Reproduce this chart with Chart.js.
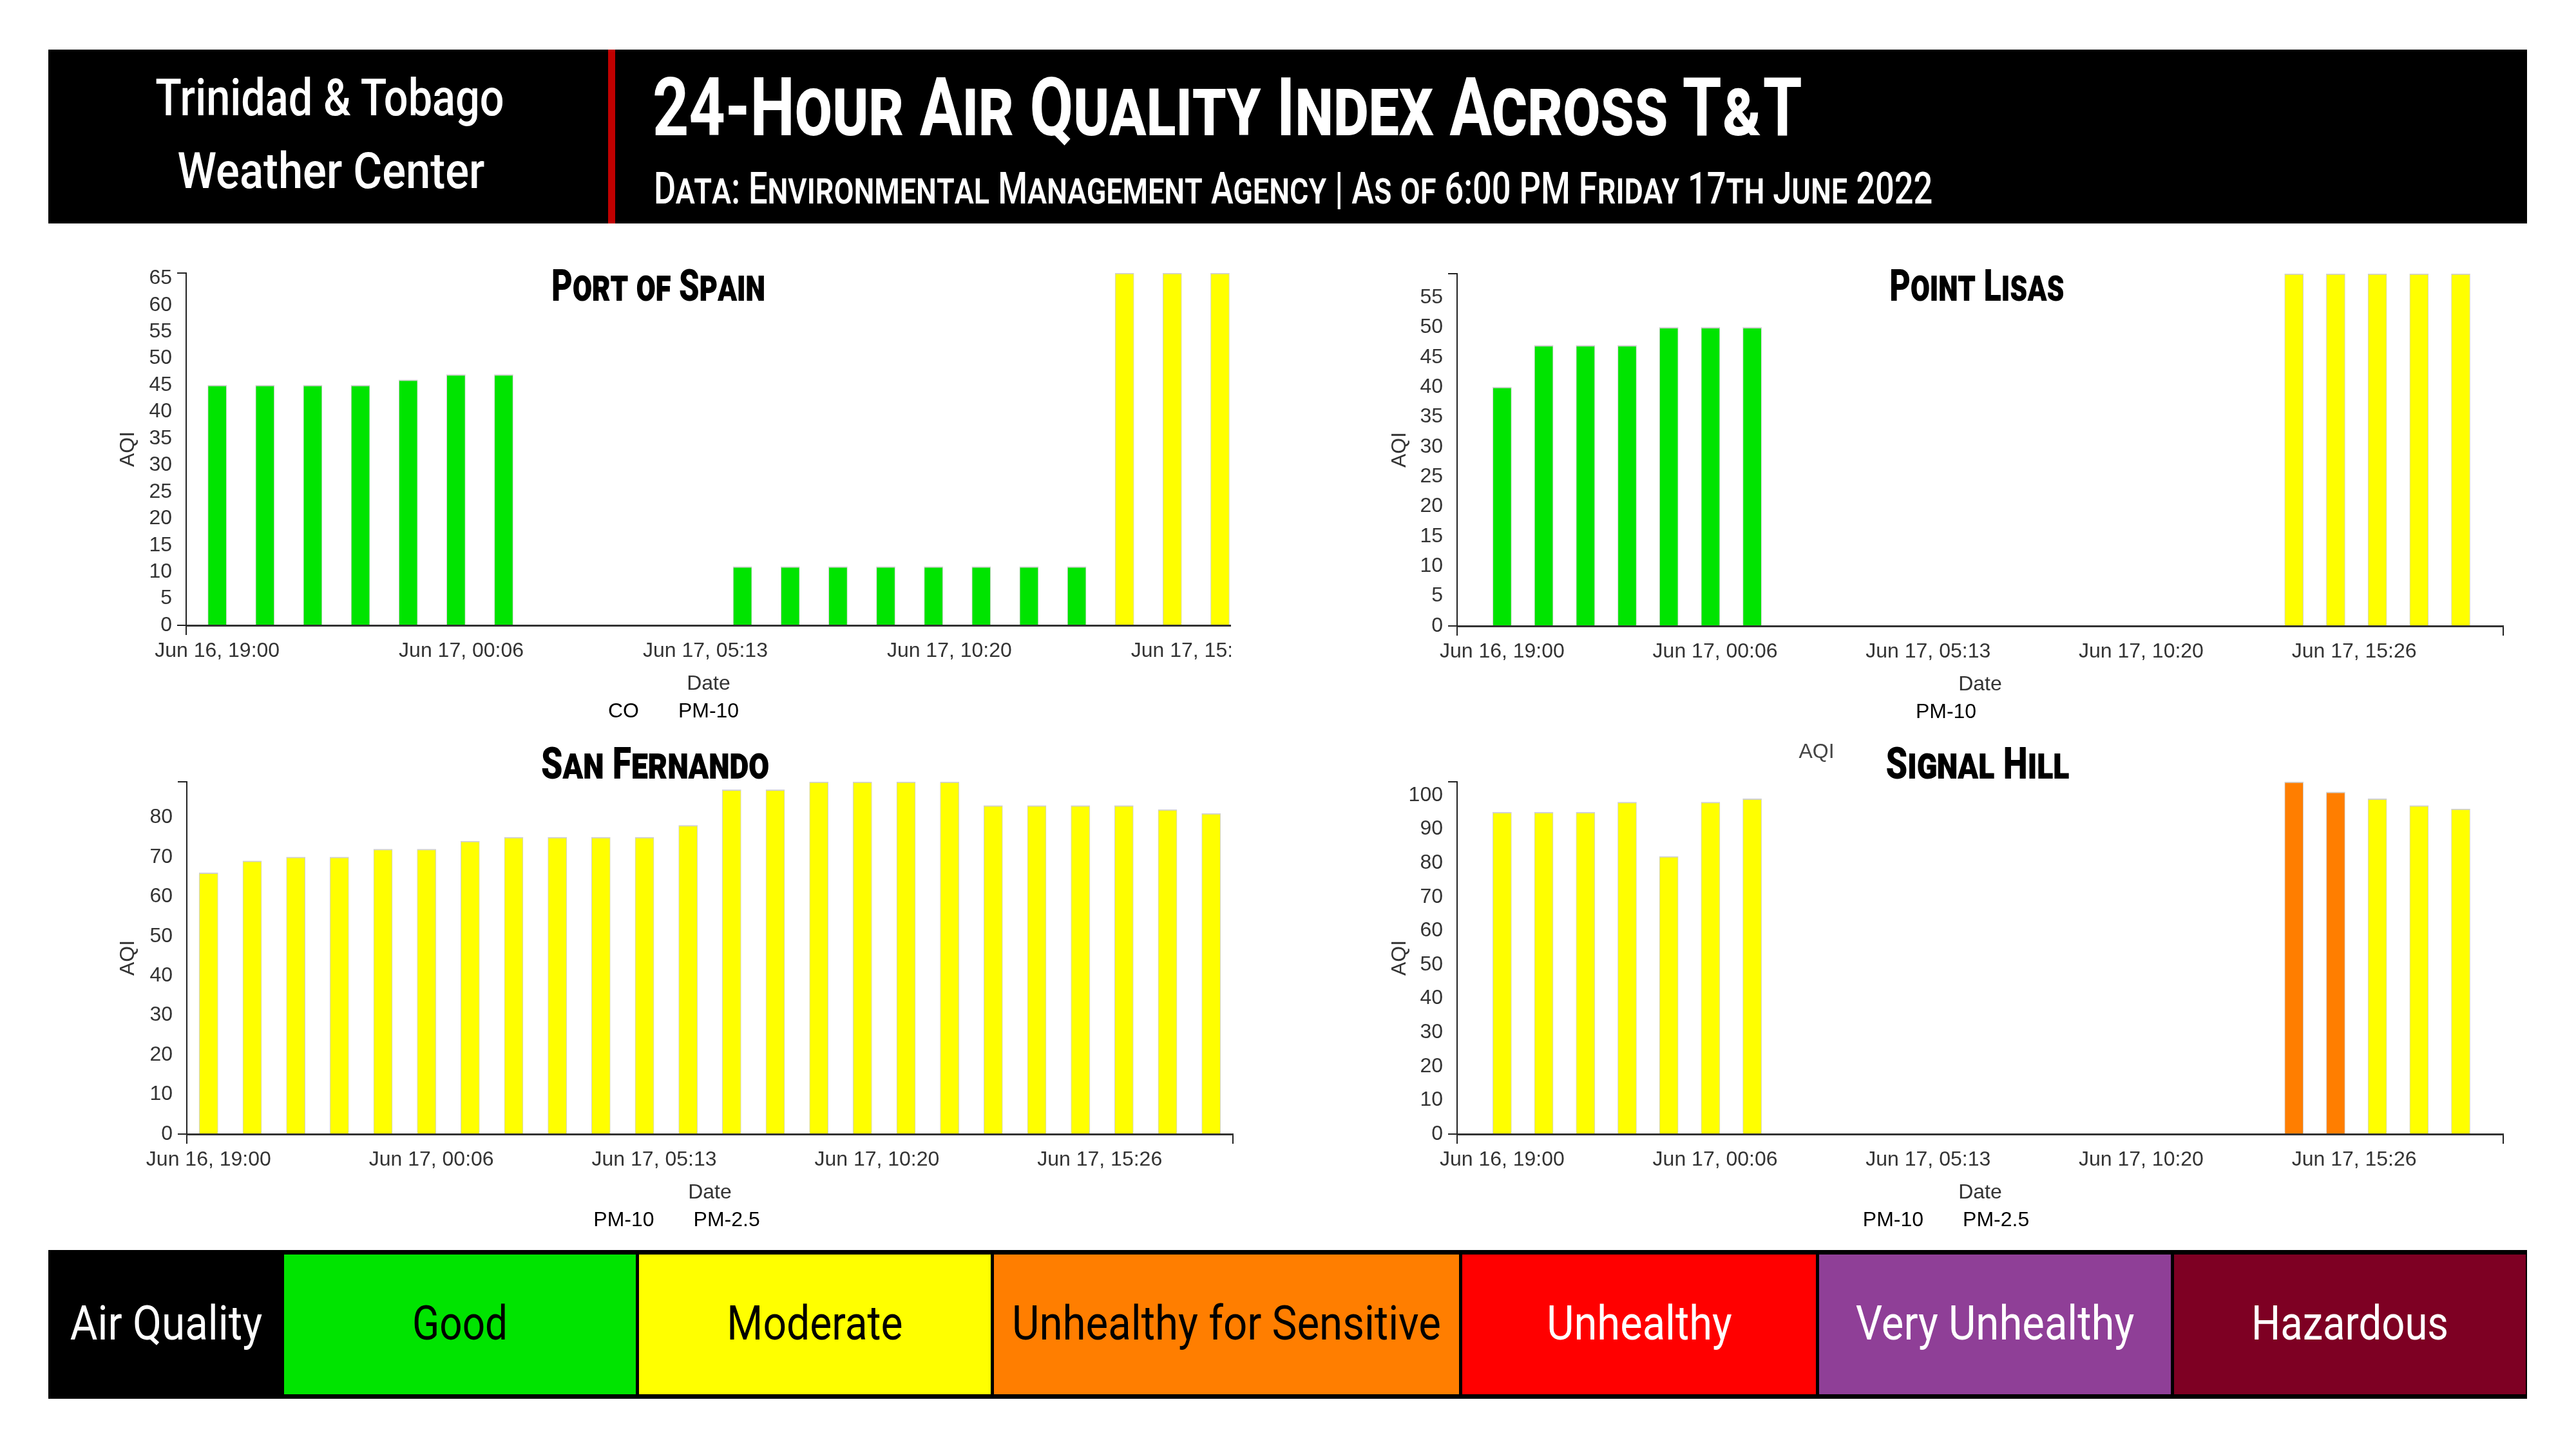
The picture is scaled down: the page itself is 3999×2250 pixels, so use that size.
<!DOCTYPE html>
<html lang="en">
<head>
<meta charset="UTF-8">
<title>24-Hour Air Quality Index Across T&amp;T</title>
<script src="https://cdn.jsdelivr.net/npm/chart.js@4.4.1/dist/chart.umd.min.js"></script>
<style>
  html, body { margin: 0; padding: 0; background: #fff; }
  #page { position: relative; width: 3999px; height: 2250px; overflow: hidden; background: #fff;
          font-family: Roboto, "Liberation Sans", sans-serif; }
  .box { position: absolute; }
  .t { position: absolute; white-space: nowrap; line-height: 1; }
  .c { transform-origin: center center; }
  .l { transform-origin: left center; }
  .head { color: #fff; font-weight: 500; }
  .big { color: #fff; font-weight: 700; font-variant: small-caps; }
  .ctitle { color: #000; font-weight: 900; font-variant: small-caps; font-size: 68px; }
  .lvl { font-size: 75px; font-weight: 400; }
  canvas { position: absolute; }
</style>
</head>
<body>
<div id="page">
  <!-- header -->
  <div class="box" style="left:75px;top:77px;width:3848px;height:270px;background:#000"></div>
  <div class="box" style="left:944px;top:77px;width:11px;height:270px;background:#c00000"></div>
  <div class="t c head" style="left:512px;top:113px;font-size:79px" data-w="541">Trinidad &amp; Tobago</div>
  <div class="t c head" style="left:514px;top:227px;font-size:78px" data-w="477">Weather Center</div>
  <div class="t l big" style="left:1013px;top:103px;font-size:127px" data-w="1785">24-Hour Air Quality Index Across T&amp;T</div>
  <div class="t l big" style="left:1015px;top:259px;font-size:68px;font-weight:500" data-w="1985">Data: Environmental Management Agency | As of 6:00 PM Friday 17th June 2022</div>

  <!-- charts -->
  <canvas id="cPOS" width="1784" height="742" style="left:127px;top:394px"></canvas>
  <canvas id="cPL" width="1797" height="742" style="left:2103px;top:395px"></canvas>
  <canvas id="cSF" width="1796" height="742" style="left:134px;top:1184px"></canvas>
  <canvas id="cSH" width="1797" height="742" style="left:2103px;top:1184px"></canvas>

  <div class="t c ctitle" style="left:1022px;top:410px" data-w="332">Port of Spain</div>
  <div class="t c ctitle" style="left:3069px;top:410px" data-w="272">Point Lisas</div>
  <div class="t c ctitle" style="left:1017px;top:1152px" data-w="354">San Fernando</div>
  <div class="t c ctitle" style="left:3070px;top:1152px" data-w="285">Signal Hill</div>
  <div class="t c" style="left:2820px;top:1150px;font-size:32px;color:#444;font-family:'Liberation Sans',Arial,sans-serif">AQI</div>

  <!-- AQI scale -->
  <div class="box" style="left:75px;top:1941px;width:3848px;height:231px;background:#000"></div>
  <div class="t c lvl" style="left:258px;top:2017px;color:#fff" data-w="298">Air Quality</div>
  <div id="levels"></div>
</div>

<script>
  // x positions are hours after Jun 16, 19:00
  const tickHours = [0, 5.111, 10.222, 15.333, 20.444];
  const tickLabels = ['Jun 16, 19:00', 'Jun 17, 00:06', 'Jun 17, 05:13', 'Jun 17, 10:20', 'Jun 17, 15:26'];

  const posHours = [0, 1, 2, 3, 4, 5, 6, 11, 12, 13, 14, 15, 16, 17, 18, 19, 20, 21];
  const posAqi = [45, 45, 45, 45, 46, 47, 47, 11, 11, 11, 11, 11, 11, 11, 11, 66, 66, 66];
  const posYTicks = [0, 5, 10, 15, 20, 25, 30, 35, 40, 45, 50, 55, 60, 65];
  const posPollutants = ['CO', 'PM-10'];

  const plHours = [0, 1, 2, 3, 4, 5, 6, 19, 20, 21, 22, 23];
  const plAqi = [40, 47, 47, 47, 50, 50, 50, 59, 59, 59, 59, 59];
  const plYTicks = [0, 5, 10, 15, 20, 25, 30, 35, 40, 45, 50, 55];
  const plPollutants = ['PM-10'];

  const sfHours = [0, 1, 2, 3, 4, 5, 6, 7, 8, 9, 10, 11, 12, 13, 14, 15, 16, 17, 18, 19, 20, 21, 22, 23];
  const sfAqi = [66, 69, 70, 70, 72, 72, 74, 75, 75, 75, 75, 78, 87, 87, 89, 89, 89, 89, 83, 83, 83, 83, 82, 81];
  const sfYTicks = [0, 10, 20, 30, 40, 50, 60, 70, 80];
  const sfPollutants = ['PM-10', 'PM-2.5'];

  const shHours = [0, 1, 2, 3, 4, 5, 6, 19, 20, 21, 22, 23];
  const shAqi = [95, 95, 95, 98, 82, 98, 99, 104, 101, 99, 97, 96];
  const shYTicks = [0, 10, 20, 30, 40, 50, 60, 70, 80, 90, 100];
  const shPollutants = ['PM-10', 'PM-2.5'];

  const aqiLevels = ['Good', 'Moderate', 'Unhealthy for Sensitive', 'Unhealthy', 'Very Unhealthy', 'Hazardous'];
  const aqiUpper = [50, 100, 150, 200, 300, 500];
  const aqiColors = ['#00e400', '#ffff00', '#ff7e00', '#ff0000', '#8f3f97', '#7e0023'];

  // layout of the scale cells at the bottom
  const levelX = [441, 992, 1543, 2270, 2824, 3375];
  const levelW = [546, 546, 722, 549, 546, 546];
  const levelInk = ['#000', '#000', '#000', '#fff', '#fff', '#fff'];
  const levelTextW = [148, 273, 666, 288, 433, 306];

  function aqiColor(v) {
    for (let i = 0; i < aqiUpper.length; i++) {
      if (v <= aqiUpper[i]) return aqiColors[i];
    }
    return aqiColors[aqiColors.length - 1];
  }

  const levels = document.getElementById('levels');
  aqiLevels.forEach((name, i) => {
    const cell = document.createElement('div');
    cell.className = 'box';
    cell.style.cssText = `left:${levelX[i]}px;top:1948px;width:${levelW[i]}px;height:217px;background:${aqiColors[i]}`;
    levels.appendChild(cell);
    const txt = document.createElement('div');
    txt.className = 't c lvl';
    txt.style.cssText = `left:${levelX[i] + levelW[i] / 2}px;top:2017px;color:${levelInk[i]}`;
    txt.dataset.w = levelTextW[i];
    txt.textContent = name;
    levels.appendChild(txt);
  });

  Chart.defaults.font.family = '"Liberation Sans", Arial, sans-serif';
  Chart.defaults.font.size = 32;
  Chart.defaults.color = '#333';

  function stationChart(id, hours, aqi, yTicks, pollutants, o) {
    const yMax = o.yMax;
    return new Chart(document.getElementById(id), {
      type: 'bar',
      data: {
        datasets: [{
          data: hours.map((h, i) => ({ x: h, y: aqi[i] })),
          backgroundColor: aqi.map(aqiColor),
          borderColor: '#d0d0d0',
          borderWidth: { top: 2, left: 1, right: 1, bottom: 0 },
          borderSkipped: 'bottom',
          barThickness: 29
        }]
      },
      options: {
        responsive: false,
        animation: false,
        devicePixelRatio: 1,
        layout: { padding: { top: 30, left: 0, right: o.padR, bottom: 5 } },
        scales: {
          x: {
            type: 'linear',
            min: o.xMin,
            max: o.xMax,
            offset: false,
            afterBuildTicks: s => { s.ticks = [o.xMin, ...tickHours, o.xMax].map(v => ({ value: v })); },
            afterFit: s => { s.height = 110; s.paddingLeft = 0; s.paddingRight = 0; },
            ticks: {
              autoSkip: false, maxRotation: 0, minRotation: 0, padding: 6,
              callback: (v, i) => tickLabels[i - 1] || ''
            },
            grid: {
              offset: false, drawOnChartArea: false, tickLength: 15, lineWidth: 2,
              color: c => (c.index === 0 || (o.endTick && c.index === tickHours.length + 1)) ? '#222' : 'rgba(0,0,0,0)'
            },
            border: { color: '#333', width: 3 },
            title: { display: true, text: 'Date', padding: 0 }
          },
          y: {
            min: 0,
            max: yMax,
            afterBuildTicks: s => {
              s.ticks = yTicks.concat(yTicks.includes(yMax) ? [] : [yMax]).map(v => ({ value: v }));
            },
            afterFit: s => { s.width = o.yW; },
            ticks: { autoSkip: false, padding: 8, callback: v => yTicks.includes(v) ? v : '' },
            grid: {
              drawOnChartArea: false, tickLength: 14, lineWidth: 2,
              color: c => (c.tick && (c.tick.value === 0 || c.tick.value === yMax)) ? '#222' : 'rgba(0,0,0,0)'
            },
            border: { color: '#222', width: 2 },
            title: { display: true, text: 'AQI', padding: { top: o.titleX, bottom: 0 } }
          }
        },
        plugins: {
          legend: {
            position: 'bottom',
            onClick: null,
            labels: {
              boxWidth: 37,
              padding: 8,
              generateLabels: () => pollutants.map(p => ({
                text: p, fillStyle: 'rgba(0,0,0,0)', strokeStyle: 'rgba(0,0,0,0)', lineWidth: 0, hidden: false
              }))
            }
          },
          tooltip: { enabled: false }
        }
      }
    });
  }

  stationChart('cPOS', posHours, posAqi, posYTicks, posPollutants,
    { xMin: -0.65, xMax: 21.23, yMax: 66, yW: 162, padR: 0, titleX: 53, endTick: false });
  stationChart('cPL', plHours, plAqi, plYTicks, plPollutants,
    { xMin: -1.08, xMax: 24.02, yMax: 59, yW: 159, padR: 14, titleX: 51, endTick: true });
  stationChart('cSF', sfHours, sfAqi, sfYTicks, sfPollutants,
    { xMin: -0.5, xMax: 23.5, yMax: 89, yW: 156, padR: 16, titleX: 46, endTick: true });
  stationChart('cSH', shHours, shAqi, shYTicks, shPollutants,
    { xMin: -1.08, xMax: 24.02, yMax: 104, yW: 159, padR: 14, titleX: 51, endTick: true });

  // squeeze the header / scale words to the widths seen in the picture
  function fitText() {
    document.querySelectorAll('[data-w]').forEach(el => {
      const w = el.offsetWidth;
      const s = (+el.dataset.w) / w;
      el.style.transform = (el.classList.contains('c') ? 'translateX(-50%) ' : '') + 'scaleX(' + s + ')';
    });
    document.querySelectorAll('.t.c:not([data-w])').forEach(el => {
      el.style.transform = 'translateX(-50%)';
    });
  }
  document.fonts.ready.then(fitText);
</script>
</body>
</html>
